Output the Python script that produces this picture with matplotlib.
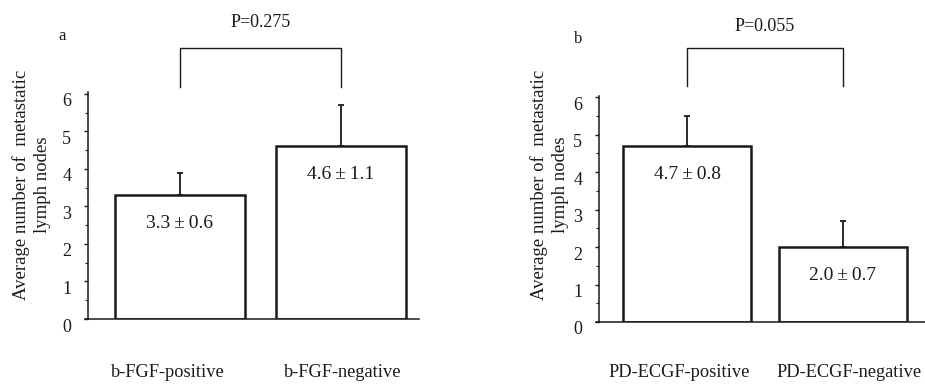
import matplotlib
matplotlib.use("Agg")
import matplotlib.pyplot as plt
import matplotlib.transforms as mtransforms
from matplotlib.ticker import MultipleLocator

plt.rcParams['font.family'] = ['Liberation Serif', 'DejaVu Serif']

# ---- data ----
cats_a = ["b-FGF-positive", "b-FGF-negative"]
means_a = [3.3, 4.6]
sds_a = [0.6, 1.1]
p_a = "P=0.275"

cats_b = ["PD-ECGF-positive", "PD-ECGF-negative"]
means_b = [4.7, 2.0]
sds_b = [0.8, 0.7]
p_b = "P=0.055"

yticks = [0, 1, 2, 3, 4, 5, 6]
ylabel = "Average number of  metastatic\nlymph nodes"
panel_letters = ["a", "b"]

W, H = 925, 384
fig = plt.figure(figsize=(W / 100, H / 100), dpi=100)
fig.patch.set_facecolor("white")
INK = "#1a1a1a"

def px_axes(l, r, b, t):
    return fig.add_axes([l / W, 1 - b / H, (r - l) / W, (b - t) / H])

panels = [
    dict(ax=px_axes(88, 419, 319, 92), cats=cats_a, means=means_a, sds=sds_a, p=p_a,
         xlim=(-0.571, 1.484), ylim=(0, 6.05), width=0.807,
         br=(6.19, 7.23), pt=7.89, letter=(-0.733, 7.55), ylx=32,
         cat_shift=(-0.075, 0.012), cat_y=-1.42),
    dict(ax=px_axes(599, 925, 322, 96), cats=cats_b, means=means_b, sds=sds_b, p=p_b,
         xlim=(-0.566, 1.53), ylim=(0, 6.03), width=0.823,
         br=(6.29, 7.31), pt=7.89, letter=(-0.70, 7.55), ylx=550,
         cat_shift=(-0.05, 0.04), cat_y=-1.34),
]

for i, P in enumerate(panels):
    ax = P["ax"]
    x = list(range(len(P["cats"])))
    ax.bar(x, P["means"], width=P["width"], color="white", edgecolor=INK, linewidth=1.8, zorder=2)
    ax.errorbar(x, P["means"], yerr=[[0] * len(x), P["sds"]], fmt="none", ecolor=INK,
                elinewidth=1.3, capsize=2.5, capthick=1.3, zorder=3)
    ax.set_xlim(*P["xlim"])
    ax.set_ylim(*P["ylim"])
    ax.set_yticks(yticks)
    ax.yaxis.set_minor_locator(MultipleLocator(0.5))
    ax.set_xticks([])
    for s in ["top", "right"]:
        ax.spines[s].set_visible(False)
    for s in ["left", "bottom"]:
        ax.spines[s].set_linewidth(1.1)
        ax.spines[s].set_color(INK)
    ax.spines["bottom"].set_zorder(4)
    # small extension of the baseline to the left of the y-axis
    ax.plot([P["xlim"][0] - 0.02, P["xlim"][0]], [0, 0], color=INK, lw=1.1, clip_on=False)
    ax.tick_params(axis="y", which="major", length=3, width=1, color=INK, pad=9,
                   labelsize=13, labelcolor=INK)
    ax.tick_params(axis="y", which="minor", length=2, width=0.8, color=INK)
    off = mtransforms.ScaledTranslation(0, -6 / 100, fig.dpi_scale_trans)
    for lab in ax.get_yticklabels():
        lab.set_transform(lab.get_transform() + off)
    ax.patch.set_visible(False)

    # value labels inside bars
    for xi, m, s in zip(x, P["means"], P["sds"]):
        ax.text(xi, m - 0.76, f"{m:.1f}\u2009\u00b1\u2009{s:.1f}", ha="center", va="center",
                fontsize=14, color=INK)
    # category labels
    for xi, c, sh in zip(x, P["cats"], P["cat_shift"]):
        ax.text(xi + sh, P["cat_y"], c, ha="center", va="center", fontsize=13.2,
                color=INK, clip_on=False)
    # bracket
    y0, y1 = P["br"]
    ax.plot([x[0], x[0], x[1], x[1]], [y0, y1, y1, y0], color=INK, lw=1.0,
            clip_on=False)
    ax.text(0.5, P["pt"], P["p"], ha="center", va="center", fontsize=13,
            color=INK, clip_on=False)
    ax.text(P["letter"][0], P["letter"][1], panel_letters[i], ha="center",
            va="center", fontsize=12, color=INK, clip_on=False)
    # y label
    fig.text(P["ylx"] / W, 1 - 185 / H, ylabel, rotation=90, ha="center",
             va="center", multialignment="center", fontsize=13.5,
             linespacing=1.3, color=INK)

fig.savefig("out.png", dpi=100, facecolor="white")
